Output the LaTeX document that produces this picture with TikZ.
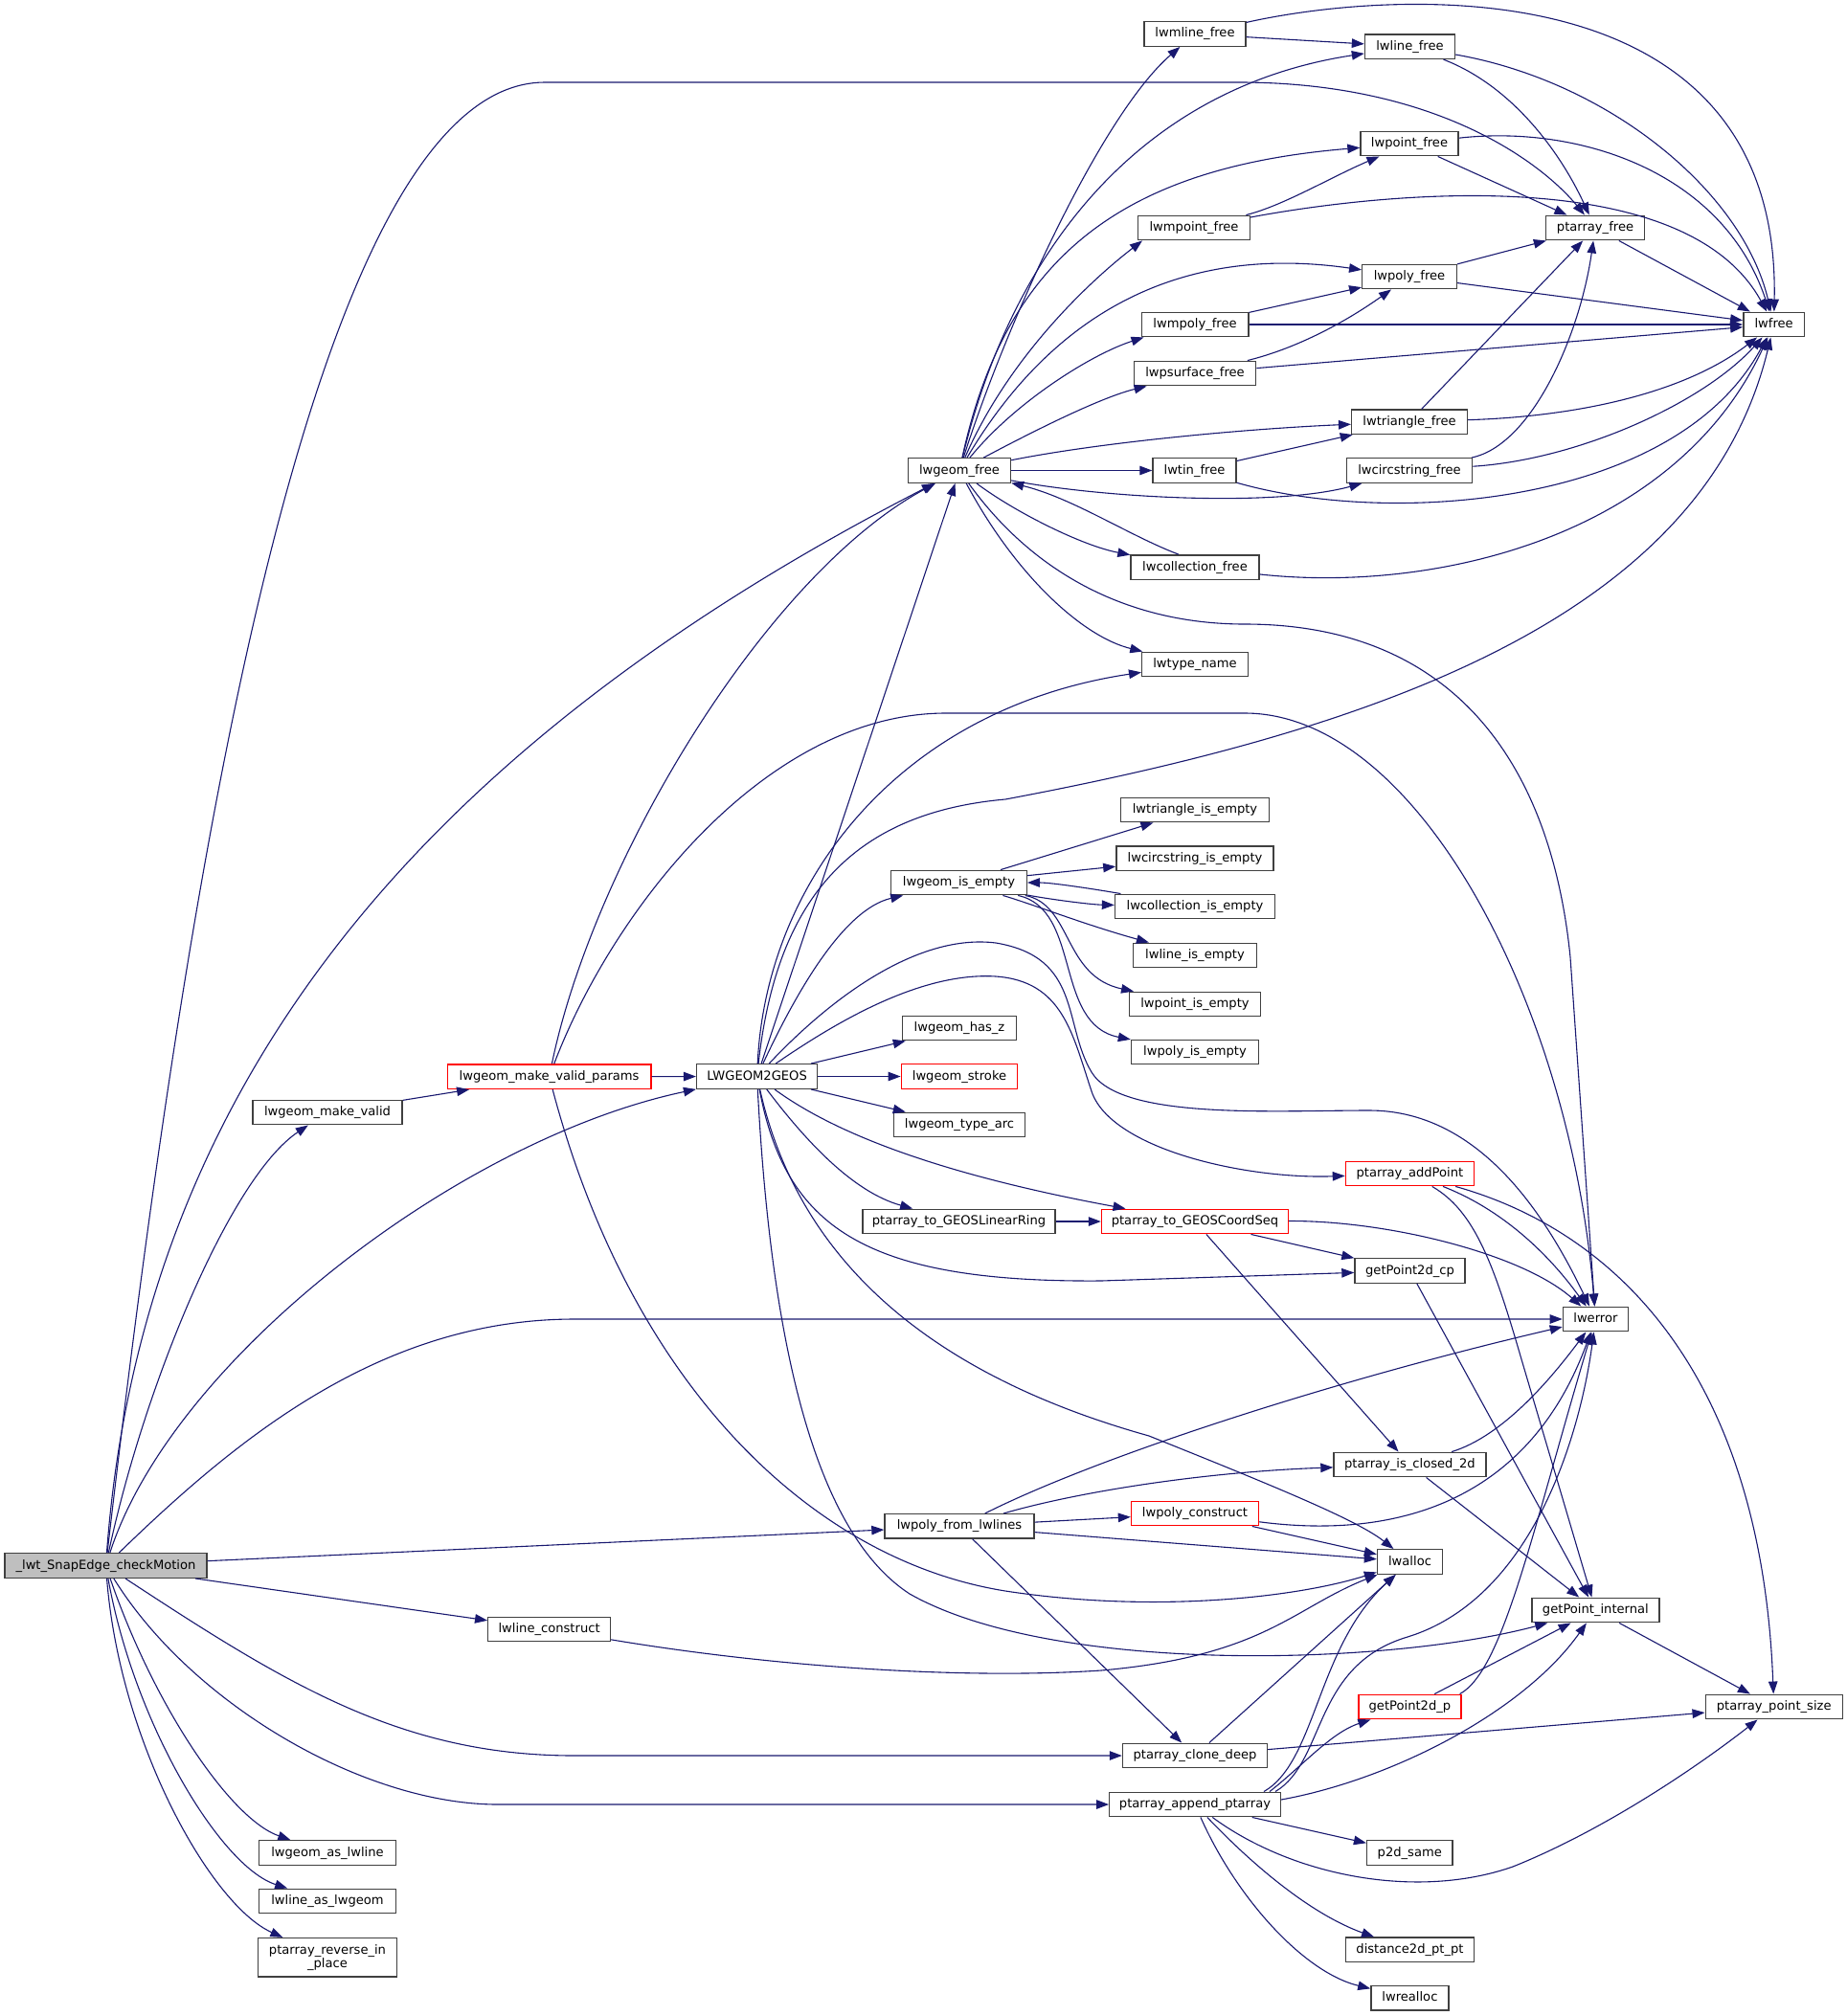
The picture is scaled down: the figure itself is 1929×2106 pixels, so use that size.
\documentclass[tikz,border=0pt]{standalone}
\usepackage{fontspec}
\setmainfont{DejaVu Sans}
\usetikzlibrary{arrows.meta}
\definecolor{edgec}{HTML}{191970}
\definecolor{boxc}{HTML}{404040}
\definecolor{rootfill}{HTML}{BFBFBF}
\definecolor{redc}{HTML}{FF0000}
\tikzset{
 box/.style={draw=boxc, line width=1.4pt, rectangle, inner sep=0pt, minimum height=25.5pt, font=\fontsize{13.1pt}{14.5pt}\selectfont, text height=10pt, text depth=3pt, fill=white},
 rbox/.style={box, draw=redc},
 bw/.style={minimum width=#1pt},
 e/.style={draw=edgec, line width=1.1pt, -{Triangle[length=13pt,width=9.5pt]}},
}
\begin{document}
\begin{tikzpicture}[x=1pt,y=-1pt]
\path[use as bounding box, fill=white] (0,0) rectangle (1929,2106);
% rank 0-3
\node[box, bw=211, fill=rootfill] (root) at (110.5,1635.5) {\_lwt\_SnapEdge\_checkMotion};
\node[box, bw=156] (mkvalid) at (342,1162) {lwgeom\_make\_valid};
\node[box, bw=142.5] (asline) at (342,1935.5) {lwgeom\_as\_lwline};
\node[box, bw=142.5] (lineasgeom) at (342,1986) {lwline\_as\_lwgeom};
\node[box, bw=145, minimum height=40.5pt, align=center, text height=, text depth=] (reverse) at (342,2044.8) {ptarray\_reverse\_in\\\_place};
\node[rbox, bw=212.5] (mvparams) at (573.6,1124.7) {lwgeom\_make\_valid\_params};
\node[box, bw=127.7] (lineconstruct) at (573.6,1702) {lwline\_construct};
\node[box, bw=126] (l2g) at (790.6,1124.5) {LWGEOM2GEOS};
% rank 4
\node[box, bw=107] (gfree) at (1002,491.5) {lwgeom\_free};
\node[box, bw=141.5] (isempty) at (1001.5,922) {lwgeom\_is\_empty};
\node[box, bw=118.6] (hasz) at (1002,1074) {lwgeom\_has\_z};
\node[rbox, bw=121.5] (stroke) at (1002,1124.5) {lwgeom\_stroke};
\node[box, bw=137.5] (typearc) at (1002,1175) {lwgeom\_type\_arc};
\node[box, bw=201] (linring) at (1001.5,1276) {ptarray\_to\_GEOSLinearRing};
\node[box, bw=156] (polyfrom) at (1002,1594.4) {lwpoly\_from\_lwlines};
% rank 5
\node[box, bw=106] (mlinefree) at (1248,35.5) {lwmline\_free};
\node[box, bw=116.6] (mpointfree) at (1247,238) {lwmpoint\_free};
\node[box, bw=111.6] (mpolyfree) at (1248,339) {lwmpoly\_free};
\node[box, bw=127.5] (psurffree) at (1248,390) {lwpsurface\_free};
\node[box, bw=87] (tinfree) at (1247.5,491.5) {lwtin\_free};
\node[box, bw=134] (collfree) at (1248,592.6) {lwcollection\_free};
\node[box, bw=110.6] (typename) at (1248,694) {lwtype\_name};
\node[box, bw=154.5] (triempty) at (1248,846) {lwtriangle\_is\_empty};
\node[box, bw=164.3] (circempty) at (1248,896.7) {lwcircstring\_is\_empty};
\node[box, bw=167] (collempty) at (1248,947) {lwcollection\_is\_empty};
\node[box, bw=128.5] (lineempty) at (1248,998) {lwline\_is\_empty};
\node[box, bw=137.5] (pointempty) at (1248,1049) {lwpoint\_is\_empty};
\node[box, bw=133] (polyempty) at (1248,1099) {lwpoly\_is\_empty};
\node[rbox, bw=195] (coordseq) at (1248,1276) {ptarray\_to\_GEOSCoordSeq};
\node[rbox, bw=133] (polyconstruct) at (1248,1581) {lwpoly\_construct};
\node[box, bw=151] (clonedeep) at (1248,1834) {ptarray\_clone\_deep};
\node[box, bw=178.5] (append) at (1248,1885) {ptarray\_append\_ptarray};
% rank 6
\node[box, bw=94] (linefree) at (1472.5,48.7) {lwline\_free};
\node[box, bw=102] (pointfree) at (1472,150) {lwpoint\_free};
\node[box, bw=98.5] (polyfree) at (1472,289) {lwpoly\_free};
\node[box, bw=120.7] (trifree) at (1472,440.6) {lwtriangle\_free};
\node[box, bw=131.3] (circfree) at (1472,491.5) {lwcircstring\_free};
\node[rbox, bw=134] (addpoint) at (1472.4,1226) {ptarray\_addPoint};
\node[box, bw=115] (p2dcp) at (1472.5,1327.5) {getPoint2d\_cp};
\node[box, bw=158.8] (closed2d) at (1472.4,1530) {ptarray\_is\_closed\_2d};
\node[box, bw=68] (lwalloc) at (1472.5,1631.5) {lwalloc};
\node[rbox, bw=107] (p2dp) at (1472.4,1783) {getPoint2d\_p};
\node[box, bw=89.4] (p2dsame) at (1472.3,1935.5) {p2d\_same};
\node[box, bw=134.4] (dist) at (1472.5,2036.8) {distance2d\_pt\_pt};
\node[box, bw=81] (realloc) at (1472.4,2087.4) {lwrealloc};
% rank 7-8
\node[box, bw=102.7] (ptfree) at (1666,238) {ptarray\_free};
\node[box, bw=68] (lwerror) at (1666.4,1378) {lwerror};
\node[box, bw=132.8] (gpinternal) at (1666.4,1682) {getPoint\_internal};
\node[box, bw=63.6] (lwfree) at (1852.6,339) {lwfree};
\node[box, bw=143] (ptsize) at (1852.7,1783) {ptarray\_point\_size};

% root edges
\draw[e] (root) .. controls (190,950) and (320,86) .. (569,86) -- (1294,86) .. controls (1500,86) and (1610,170) .. (ptfree);
\draw[e] (root) .. controls (150,1100) and (480,760) .. (gfree);
\draw[e] (root) .. controls (150,1450) and (240,1230) .. (mkvalid);
\draw[e] (root) .. controls (180,1420) and (480,1190) .. (l2g);
\draw[e] (root) .. controls (250,1500) and (400,1378) .. (600,1378) -- (lwerror);
\draw[e] (root) -- (polyfrom);
\draw[e] (root) -- (lineconstruct);
\draw[e] (root) .. controls (300,1760) and (420,1834) .. (600,1834) -- (clonedeep);
\draw[e] (root) .. controls (200,1780) and (380,1885) .. (520,1885) -- (append);
\draw[e] (root) .. controls (160,1780) and (240,1900) .. (asline);
\draw[e] (root) .. controls (140,1800) and (230,1950) .. (lineasgeom);
\draw[e] (root) .. controls (125,1820) and (220,1990) .. (reverse);
% make valid
\draw[e] (mkvalid) -- (mvparams);
\draw[e] (mvparams) -- (l2g);
\draw[e] (mvparams) .. controls (620,900) and (800,600) .. (gfree);
\draw[e] (mvparams) .. controls (640,950) and (800,745) .. (988,745) -- (1300,745) .. controls (1480,745) and (1640,1050) .. (lwerror);
\draw[e] (mvparams) .. controls (660,1450) and (850,1630) .. (1050,1662) .. controls (1200,1685) and (1350,1670) .. (lwalloc);
% LWGEOM2GEOS
\draw[e] (l2g) -- (gfree);
\draw[e] (l2g) .. controls (800,920) and (940,740) .. (typename);
\draw[e] (l2g) .. controls (810,950) and (880,850) .. (1050,835) .. controls (1450,760) and (1780,640) .. (lwfree);
\draw[e] (l2g) .. controls (830,1040) and (880,950) .. (isempty);
\draw[e] (l2g) .. controls (870,1040) and (960,975) .. (1040,985) .. controls (1130,1000) and (1110,1070) .. (1140,1120) .. controls (1170,1170) and (1330,1160) .. (1430,1160) .. controls (1540,1160) and (1610,1260) .. (lwerror);
\draw[e] (l2g) .. controls (870,1070) and (960,1015) .. (1040,1020) .. controls (1110,1025) and (1120,1080) .. (1140,1140) .. controls (1160,1200) and (1300,1232) .. (addpoint);
\draw[e] (l2g) -- (hasz);
\draw[e] (l2g) -- (stroke);
\draw[e] (l2g) -- (typearc);
\draw[e] (l2g) .. controls (840,1190) and (890,1245) .. (linring);
\draw[e] (l2g) .. controls (880,1190) and (1000,1230) .. (coordseq);
\draw[e] (l2g) .. controls (820,1280) and (900,1340) .. (1150,1338) -- (p2dcp);
\draw[e] (l2g) .. controls (830,1300) and (950,1430) .. (1200,1500) .. controls (1350,1560) and (1420,1590) .. (lwalloc);
\draw[e] (l2g) .. controls (805,1400) and (850,1600) .. (950,1665) .. controls (1100,1750) and (1450,1740) .. (gpinternal);
% is_empty
\draw[e] (isempty) -- (triempty);
\draw[e] (isempty) -- (circempty);
\draw[e] (collempty) .. controls (1150,930) and (1100,922) .. (isempty);
\draw[e] (isempty) .. controls (1100,940) and (1140,945) .. (collempty);
\draw[e] (isempty) .. controls (1080,945) and (1130,965) .. (lineempty);
\draw[e] (isempty) .. controls (1120,945) and (1110,1020) .. (pointempty);
\draw[e] (isempty) .. controls (1130,950) and (1100,1070) .. (polyempty);
% coordseq etc
\draw[e] (linring) -- (coordseq);
\draw[e] (coordseq) .. controls (1450,1275) and (1590,1310) .. (lwerror);
\draw[e] (coordseq) -- (p2dcp);
\draw[e] (coordseq) -- (closed2d);
\draw[e] (addpoint) .. controls (1560,1260) and (1610,1300) .. (lwerror);
\draw[e] (addpoint) .. controls (1540,1265) and (1560,1320) .. (1589,1420) -- (gpinternal);
\draw[e] (addpoint) .. controls (1700,1290) and (1840,1450) .. (ptsize);
\draw[e] (p2dcp) -- (gpinternal);
\draw[e] (closed2d) .. controls (1570,1500) and (1620,1440) .. (lwerror);
\draw[e] (closed2d) -- (gpinternal);
% poly from lines
\draw[e] (polyfrom) .. controls (1150,1520) and (1400,1440) .. (lwerror);
\draw[e] (polyfrom) .. controls (1120,1560) and (1250,1538) .. (closed2d);
\draw[e] (polyfrom) -- (polyconstruct);
\draw[e] (polyfrom) -- (lwalloc);
\draw[e] (polyfrom) -- (clonedeep);
\draw[e] (polyconstruct) -- (lwalloc);
\draw[e] (polyconstruct) .. controls (1470,1610) and (1600,1560) .. (lwerror);
\draw[e] (lineconstruct) .. controls (800,1740) and (1000,1755) .. (1150,1745) .. controls (1320,1730) and (1350,1680) .. (lwalloc);
\draw[e] (clonedeep) -- (lwalloc);
\draw[e] (clonedeep) -- (ptsize);
% append
\draw[e] ([xshift=-12pt]append.north east) .. controls (1360,1845) and (1390,1810) .. (p2dp);
\draw[e] ([xshift=-18pt]append.north east) .. controls (1375,1840) and (1375,1720) .. (lwalloc);
\draw[e] ([xshift=-6pt]append.north east) .. controls (1385,1840) and (1370,1740) .. (1470,1710) .. controls (1600,1670) and (1650,1500) .. (lwerror);
\draw[e] ([yshift=5pt]append.east) .. controls (1450,1860) and (1590,1790) .. (gpinternal);
\draw[e] (append) .. controls (1350,1960) and (1480,1985) .. (1580,1950) .. controls (1680,1910) and (1780,1840) .. (ptsize);
\draw[e] (append) -- (p2dsame);
\draw[e] (append) .. controls (1310,1950) and (1370,2000) .. (dist);
\draw[e] (append) .. controls (1290,1980) and (1360,2060) .. (realloc);
\draw[e] (p2dp) -- (gpinternal);
\draw[e] ([xshift=-2pt]p2dp.north east) .. controls (1570,1745) and (1600,1600) .. (lwerror);
\draw[e] (gpinternal) -- (ptsize);
% lwgeom_free
\draw[e] (gfree) .. controls (1050,340) and (1150,120) .. (mlinefree);
\draw[e] (gfree) .. controls (1060,250) and (1200,90) .. (linefree);
\draw[e] (gfree) .. controls (1050,270) and (1170,175) .. (pointfree);
\draw[e] (gfree) .. controls (1050,380) and (1130,300) .. ([xshift=5pt]mpointfree.south west);
\draw[e] (gfree) .. controls (1080,360) and (1200,250) .. (polyfree);
\draw[e] (gfree) .. controls (1060,420) and (1140,370) .. ([xshift=3pt]mpolyfree.south west);
\draw[e] (gfree) .. controls (1080,450) and (1150,415) .. ([xshift=14pt]psurffree.south west);
\draw[e] (gfree) .. controls (1150,462) and (1300,448) .. (trifree);
\draw[e] (gfree) -- (tinfree);
\draw[e] (gfree) .. controls (1150,520) and (1330,530) .. (circfree);
\draw[e] (gfree) .. controls (1060,535) and (1130,570) .. (collfree);
\draw[e] ([xshift=-17pt]collfree.north) .. controls (1180,560) and (1120,520) .. (gfree);
\draw[e] (gfree) .. controls (1060,600) and (1130,665) .. (typename);
\draw[e] (gfree) .. controls (1080,600) and (1180,652) .. (1300,652) .. controls (1520,652) and (1620,800) .. (1640,1000) -- (lwerror);
% free cluster
\draw[e] (mlinefree) -- (linefree);
\draw[e] (mlinefree) .. controls (1450,-10) and (1860,-40) .. (lwfree);
\draw[e] (linefree) .. controls (1680,85) and (1820,200) .. (lwfree);
\draw[e] (linefree) .. controls (1580,90) and (1630,160) .. (ptfree);
\draw[e] (pointfree) .. controls (1650,130) and (1800,180) .. (lwfree);
\draw[e] (pointfree) -- (ptfree);
\draw[e] (mpointfree) .. controls (1340,215) and (1390,185) .. (pointfree);
\draw[e] (mpointfree) .. controls (1450,200) and (1760,170) .. (lwfree);
\draw[e] (ptfree) -- (lwfree);
\draw[e] (polyfree) -- (ptfree);
\draw[e] (polyfree) -- (lwfree);
\draw[e] (mpolyfree) -- (polyfree);
\draw[e] (mpolyfree) -- (lwfree);
\draw[e] (psurffree) .. controls (1350,365) and (1400,340) .. (polyfree);
\draw[e] (psurffree) -- (lwfree);
\draw[e] (trifree) -- (ptfree);
\draw[e] (trifree) .. controls (1650,435) and (1760,410) .. (lwfree);
\draw[e] (tinfree) -- (trifree);
\draw[e] (tinfree) .. controls (1450,550) and (1750,530) .. (lwfree);
\draw[e] (circfree) .. controls (1600,465) and (1650,350) .. (ptfree);
\draw[e] (circfree) .. controls (1650,480) and (1780,420) .. (lwfree);
\draw[e] (collfree) .. controls (1500,620) and (1750,560) .. (lwfree);
\end{tikzpicture}
\end{document}
